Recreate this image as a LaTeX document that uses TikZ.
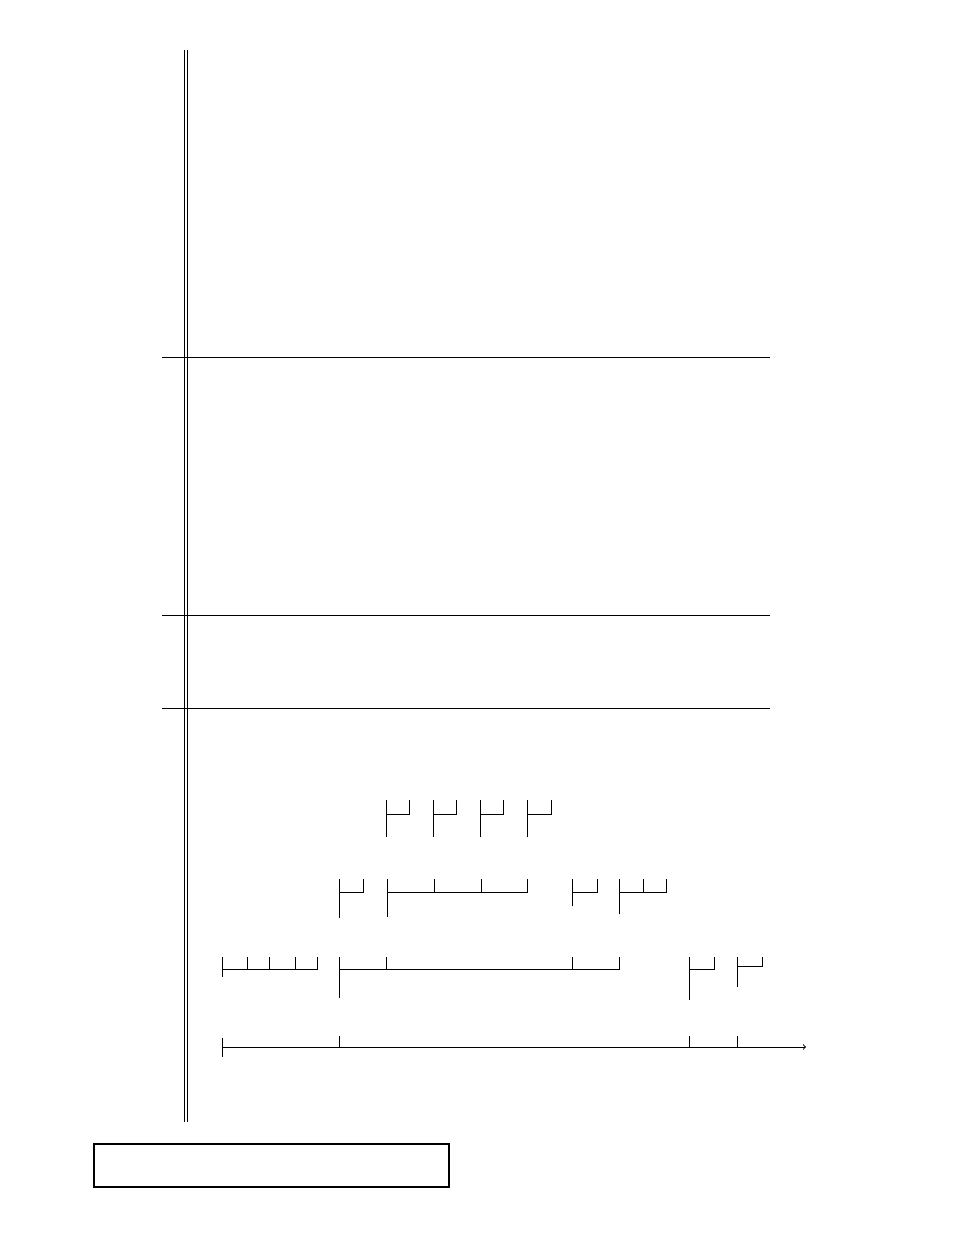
\documentclass[tikz,border=0pt]{standalone}
\usepackage{amsmath,amssymb}
\usepackage{tikz}

\begin{document}
\begin{tikzpicture}[x=1pt,y=-1pt,line width=1pt]
		\useasboundingbox (0,0) rectangle (954,1235);
		% double time bar
		\draw (184.3,50) -- (184.3,1122);
		\draw (187,50) -- (187,1122);
		\draw (162,357) -- (770,357);
		\draw (162,615) -- (770,615);
		\draw (162,708) -- (770,708);
		
		\draw (386.5,837) -- (386.5,800);
		\draw (386.5,814) -- (409,814) -- (409,800);
		\draw (433,837) -- (433,800);
		\draw (433,814) -- (456,814) -- (456,800);
		\draw (480,837) -- (480,800);
		\draw (480,814) -- (503,814) -- (503,800);
		\draw (527,837) -- (527,800);
		\draw (527,814) -- (551,814) -- (551,800);
		
		\draw (339,918) -- (339,879);
		\draw (339,892) -- (363,892) -- (363,879);
		\draw (387,917) -- (387,879);
		\draw (387,892) -- (527,892) -- (527,879);
		\draw (434,892) -- (434,879);
		\draw (481,892) -- (481,879);
		\draw (572,906) -- (572,879);
		\draw (572,892) -- (597,892) -- (597,879);
		\draw (619,914) -- (619,879);
		\draw (619,892) -- (666,892) -- (666,879);
		\draw (643,892) -- (643,879);
		
		\draw (222,977) -- (222,957);
		\draw (222,969) -- (317,969) -- (317,957);
		\draw (247,969) -- (247,957);
		\draw (269,969) -- (269,957);
		\draw (295,969) -- (295,957);
		\draw (339,998) -- (339,957);
		\draw (339,969) -- (619,969) -- (619,957);
		\draw (386,969) -- (386,957);
		\draw (572,969) -- (572,957);
		\draw (689,1000) -- (689,957);
		\draw (689,969) -- (714,969) -- (714,957);
		\draw (737,987) -- (737,957);
		\draw (737,966) -- (762,966) -- (762,957);
		
		\draw (222,1057) -- (222,1038);
		\draw [->] (222,1047) -- (806,1047);
		\draw (339,1047) -- (339,1036);
		\draw (689,1047) -- (689,1036);
		\draw (737,1047) -- (737,1036);
		
		\draw [line width=2pt] (94,1144) rectangle (449,1187);
\end{tikzpicture}
\end{document}
